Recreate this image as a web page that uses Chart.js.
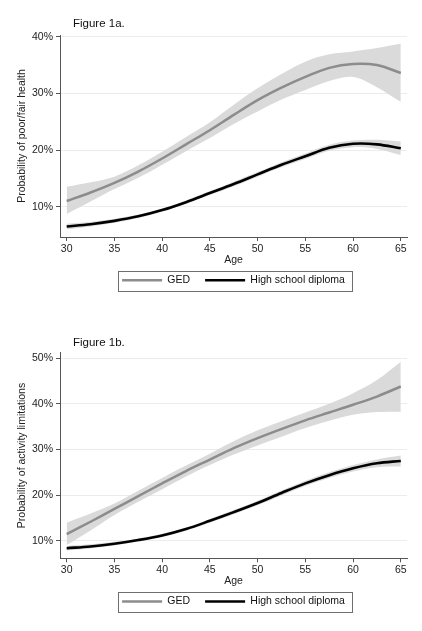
<!DOCTYPE html>
<html>
<head>
<meta charset="utf-8">
<script src="https://cdn.jsdelivr.net/npm/chart.js@4"></script>
<style>
  body { margin: 0; background: #fff; }
  canvas { position: absolute; left: 0; }
  #fig1a { top: 0; }
  #fig1b { top: 321px; }
</style>
</head>
<body>
<canvas id="fig1a" width="422" height="310"></canvas>
<canvas id="fig1b" width="422" height="310"></canvas>
<script>
const ages = [30, 32.5, 35, 37.5, 40, 42.5, 45, 47.5, 50, 52.5, 55, 57.5, 60, 62.5, 65]
const seriesNames = ['GED', 'High school diploma']
const percentTicks = [10, 20, 30, 40, 50]

// Figure 1a: poor/fair health
const gedHealth   = [11.0, 12.5, 14.2, 16.2, 18.5, 21.0, 23.5, 26.2, 28.8, 31.0, 32.9, 34.5, 35.2, 35.0, 33.6]
const gedHealthHi = [13.5, 14.3, 15.3, 17.3, 19.7, 22.3, 24.9, 28.0, 30.9, 33.4, 35.6, 36.9, 37.4, 38.0, 38.8]
const gedHealthLo = [8.7, 10.9, 13.1, 15.1, 17.4, 19.8, 22.1, 24.6, 26.8, 28.9, 30.6, 32.2, 32.9, 31.1, 28.5]
const hsdHealth   = [6.5, 6.9, 7.5, 8.3, 9.4, 10.8, 12.4, 14.0, 15.7, 17.4, 18.9, 20.4, 21.1, 21.0, 20.3]
const hsdHealthHi = [7.0, 7.3, 7.85, 8.6, 9.7, 11.1, 12.75, 14.4, 16.1, 17.85, 19.4, 20.95, 21.7, 21.8, 21.5]
const hsdHealthLo = [6.0, 6.5, 7.15, 8.0, 9.1, 10.5, 12.05, 13.6, 15.3, 16.95, 18.4, 19.85, 20.5, 20.2, 19.1]

// Figure 1b: activity limitations
const gedActivity   = [11.5, 14.2, 17.0, 19.8, 22.6, 25.3, 27.8, 30.3, 32.5, 34.5, 36.4, 38.1, 39.8, 41.6, 43.8]
const gedActivityHi = [14.0, 16.0, 18.2, 21.0, 23.8, 26.5, 29.1, 31.8, 34.2, 36.2, 38.1, 40.0, 42.3, 45.2, 49.2]
const gedActivityLo = [9.1, 12.3, 15.7, 18.6, 21.3, 24.1, 26.6, 28.9, 30.9, 32.8, 34.7, 36.3, 37.6, 38.2, 38.3]
const hsdActivity   = [8.4, 8.8, 9.4, 10.2, 11.2, 12.6, 14.4, 16.3, 18.3, 20.5, 22.6, 24.4, 25.9, 27.0, 27.5]
const hsdActivityHi = [8.9, 9.25, 9.8, 10.55, 11.55, 12.95, 14.8, 16.75, 18.8, 21.05, 23.2, 25.05, 26.6, 27.85, 28.7]
const hsdActivityLo = [7.9, 8.35, 9.0, 9.85, 10.85, 12.25, 14.0, 15.85, 17.8, 19.95, 22.0, 23.75, 25.2, 26.15, 26.3]

const font = "'Liberation Sans', Arial, sans-serif"
const gedColor = '#8c8c8c'
const bandColor = '#dadada'

function pts (values) {
  return ages.map((a, i) => ({ x: a, y: values[i] }))
}

// figure caption drawn above the plot, Stata style
const captionPlugin = {
  id: 'caption',
  afterDraw (chart, args, opts) {
    const ctx = chart.ctx
    ctx.save()
    ctx.font = '11.5px ' + font
    ctx.fillStyle = '#111'
    ctx.textBaseline = 'middle'
    ctx.fillText(opts.text, 73, opts.y)
    ctx.restore()
  }
}

// box round the legend
const legendBoxPlugin = {
  id: 'legendBox',
  afterDraw (chart) {
    const boxes = chart.legend.legendHitBoxes
    if (!boxes || !boxes.length) return
    const left = Math.min(...boxes.map(b => b.left)) - 4
    const right = Math.max(...boxes.map(b => b.left + b.width)) + 7
    const top = boxes[0].top - 4.5
    const ctx = chart.ctx
    ctx.save()
    ctx.strokeStyle = '#6e6e6e'
    ctx.lineWidth = 1
    ctx.strokeRect(Math.round(left) + 0.5, Math.round(top) + 0.5, Math.round(right - left), Math.round(boxes[0].height + 9))
    ctx.restore()
  }
}

function build (id, cfg) {
  const ctx = document.getElementById(id).getContext('2d')
  const band = (hi, lo) => [
    { label: 'upper', data: pts(hi), borderWidth: 0, pointRadius: 0, fill: false, order: 1 },
    { label: 'lower', data: pts(lo), borderWidth: 0, pointRadius: 0, fill: '-1', backgroundColor: bandColor, order: 1 }
  ]
  return new Chart(ctx, {
    type: 'line',
    data: {
      datasets: [
        ...band(cfg.gedHi, cfg.gedLo),
        ...band(cfg.hsdHi, cfg.hsdLo),
        { label: seriesNames[0], data: pts(cfg.ged), borderColor: gedColor, borderWidth: 2.5, pointRadius: 0, fill: false, order: 0 },
        { label: seriesNames[1], data: pts(cfg.hsd), borderColor: '#000', borderWidth: 2.6, pointRadius: 0, fill: false, order: 0 }
      ]
    },
    options: {
      responsive: false,
      animation: false,
      tension: 0.35,
      layout: { padding: { top: cfg.top, right: 15, bottom: cfg.bottom, left: 0 } },
      scales: {
        x: {
          type: 'linear',
          min: 29.3,
          max: 65.65,
          afterFit: s => { s.height = 23 },
          border: { color: '#555', width: 1 },
          grid: { drawOnChartArea: false, tickLength: 4, tickColor: '#555' },
          ticks: { stepSize: 5, includeBounds: false, padding: 2, color: '#222', font: { family: font, size: 10.5 } },
          title: { display: true, text: 'Age', color: '#222', padding: { top: 0, bottom: -6 }, font: { family: font, size: 10.5 } }
        },
        y: {
          min: cfg.yMin,
          max: cfg.yMax,
          afterFit: s => { s.width = 60 },
          afterBuildTicks: s => { s.ticks = percentTicks.filter(v => v <= cfg.yMax).map(v => ({ value: v })) },
          border: { color: '#555', width: 1 },
          grid: { color: '#ececec', tickLength: 4, tickColor: '#555' },
          ticks: { padding: 3, color: '#222', font: { family: font, size: 10.5 }, callback: v => v + '%' },
          title: { display: true, text: cfg.yTitle, color: '#222', padding: { top: 15.6, bottom: 0 }, font: { family: font, size: 10.5 } }
        }
      },
      plugins: {
        caption: { text: cfg.caption, y: cfg.captionY },
        legend: {
          position: 'bottom',
          fullSize: false,
          labels: {
            filter: item => seriesNames.includes(item.text),
            usePointStyle: true,
            pointStyle: 'line',
            pointStyleWidth: 40,
            padding: 15,
            color: '#111',
            font: { family: font, size: 10.5 }
          }
        },
        tooltip: { enabled: false }
      }
    },
    plugins: [captionPlugin, legendBoxPlugin]
  })
}

build('fig1a', {
  caption: 'Figure 1a.', captionY: 24, top: 35, bottom: 14.5,
  yMin: 4.65, yMax: 40.3, yTitle: 'Probability of poor/fair health',
  ged: gedHealth, gedHi: gedHealthHi, gedLo: gedHealthLo,
  hsd: hsdHealth, hsdHi: hsdHealthHi, hsdLo: hsdHealthLo
})

build('fig1b', {
  caption: 'Figure 1b.', captionY: 22, top: 31.7, bottom: 14.2,
  yMin: 6.2, yMax: 51.2, yTitle: 'Probability of activity limitations',
  ged: gedActivity, gedHi: gedActivityHi, gedLo: gedActivityLo,
  hsd: hsdActivity, hsdHi: hsdActivityHi, hsdLo: hsdActivityLo
})
</script>
</body>
</html>
